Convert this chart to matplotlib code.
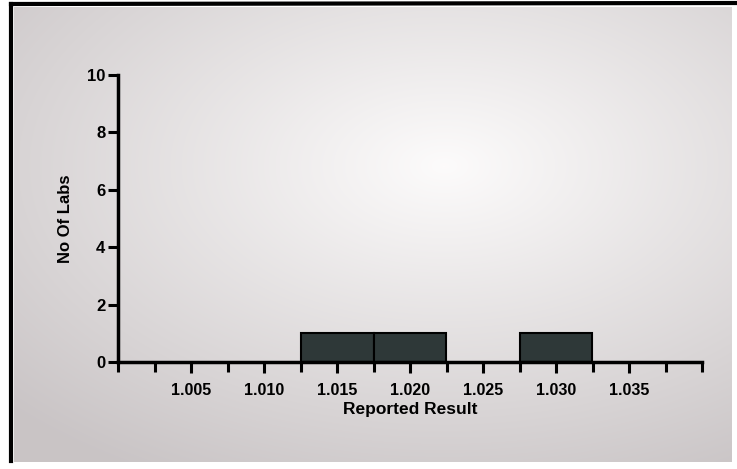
import numpy as np
from matplotlib import pyplot as plt, patches, lines, ticker

# histogram data
bin_edges = [1.0125, 1.0175, 1.0225, 1.0275, 1.0325]
bin_counts = [1, 1, 0, 1]
x_tick_labels = ['1.005', '1.010', '1.015', '1.020', '1.025', '1.030', '1.035']
x_label_pos = [1.005, 1.010, 1.015, 1.020, 1.025, 1.030, 1.035]
y_ticks = [0, 2, 4, 6, 8, 10]

plt.rcParams['font.family'] = ['Liberation Sans', 'DejaVu Sans']
plt.rcParams['font.weight'] = 'bold'
plt.rcParams['axes.labelweight'] = 'bold'

fig = plt.figure(figsize=(7.37, 4.69), dpi=100)
fig.patch.set_facecolor('white')

# photographed paper: grey with a lighter centre
bg = fig.add_axes([14 / 737, 7 / 469, 718 / 737, 455 / 469])
yy, xx = np.mgrid[0:1:200j, 0:1:300j]
r = np.sqrt(((xx - 0.6) / 0.75) ** 2 + ((yy - 0.35) / 0.7) ** 2)
shade = np.clip(1 - 0.9 * r, 0, 1)
dark = np.array([0.79, 0.77, 0.775])
light = np.array([0.99, 0.985, 0.985])
img = dark + (light - dark) * shade[..., None]
bg.imshow(img, aspect='auto', interpolation='bilinear')
bg.set_axis_off()

# printed frame (top and left edges)
fig.add_artist(lines.Line2D([11 / 737, 1.0], [1 - 4 / 469, 1 - 3 / 469],
                            color='black', lw=3))
fig.add_artist(lines.Line2D([11 / 737, 11 / 737], [1 - 4 / 469, 8 / 469],
                            color='black', lw=3))

ax = fig.add_axes([118 / 737, 107 / 469, 584 / 737, 287 / 469])
ax.patch.set_alpha(0)
for left, right, c in zip(bin_edges[:-1], bin_edges[1:], bin_counts):
    if c > 0:
        ax.add_patch(patches.Rectangle((left, 0), right - left, c,
                                       facecolor='#2e3838', edgecolor='black', lw=1.5))

ax.set_xlim(1.0, 1.04)
ax.set_ylim(0, 10)
ax.xaxis.set_major_locator(ticker.FixedLocator(x_label_pos))
ax.xaxis.set_major_formatter(ticker.FixedFormatter(x_tick_labels))
ax.xaxis.set_minor_locator(ticker.MultipleLocator(0.0025))
ax.set_yticks(y_ticks)
for s in ('top', 'right'):
    ax.spines[s].set_visible(False)
for s in ('left', 'bottom'):
    ax.spines[s].set_linewidth(2.5)
ax.tick_params(axis='x', which='major', length=8, width=2.2, labelsize=11.5, pad=7)
ax.tick_params(axis='x', which='minor', length=7, width=2.2)
ax.tick_params(axis='y', length=7, width=2.2, labelsize=12, pad=2)
ax.set_xlabel('Reported Result', fontsize=12.5, labelpad=3)
ax.set_ylabel('No Of Labs', fontsize=12, labelpad=10)

plt.savefig('out.png', dpi=100)
